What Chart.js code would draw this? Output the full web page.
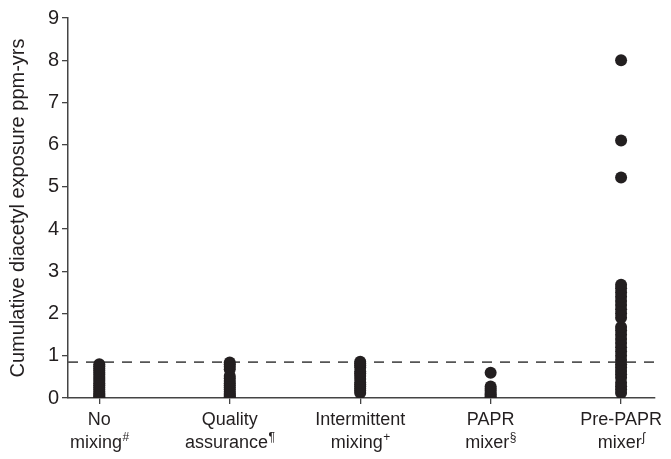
<!DOCTYPE html>
<html>
<head>
<meta charset="utf-8">
<script src="https://cdn.jsdelivr.net/npm/chart.js@4.4.1/dist/chart.umd.min.js"></script>
<style>
  html, body { margin: 0; padding: 0; background: #fff; }
  #wrap { width: 671px; height: 459px; position: relative; }
</style>
</head>
<body>
<div id="wrap"><canvas id="chart"></canvas></div>
<script>
// ===== Dados
const categories = ['No', 'Quality', 'Intermittent', 'PAPR', 'Pre-PAPR'];
const categories2 = ['mixing', 'assurance', 'mixing', 'mixer', 'mixer'];
const footMarks = ['#', '¶', '+', '§', 'ʃ'];

const noMixing     = [0, 0.03, 0.07, 0.1, 0.15, 0.2, 0.25, 0.3, 0.35, 0.4, 0.45, 0.5, 0.55, 0.6, 0.65, 0.7, 0.75, 0.8];
const quality      = [0, 0.03, 0.07, 0.1, 0.15, 0.2, 0.25, 0.3, 0.35, 0.4, 0.47, 0.52, 0.68, 0.74, 0.8, 0.84];
const intermittent = [0.12, 0.17, 0.22, 0.27, 0.32, 0.37, 0.45, 0.52, 0.58, 0.63, 0.72, 0.77, 0.82, 0.86];
const paprMixer    = [0, 0.04, 0.08, 0.12, 0.17, 0.22, 0.27, 0.6];
const prePapr      = [0.12, 0.2, 0.28, 0.36, 0.48, 0.56, 0.64, 0.72, 0.8, 0.9, 1.0, 1.1, 1.2, 1.3, 1.4, 1.5, 1.6, 1.68,
                      1.9, 2.0, 2.1, 2.2, 2.3, 2.4, 2.5, 2.6, 2.68, 5.22, 6.1, 8.0];
const threshold = 0.85;

const yTicks = [0, 1, 2, 3, 4, 5, 6, 7, 8, 9];

const INK = '#231f20';
const AXIS = '#444';
const FONT = '"Liberation Sans", Arial, sans-serif';

const groups = [noMixing, quality, intermittent, paprMixer, prePapr];
const points = [];
groups.forEach((vals, i) => vals.forEach(v => points.push({ x: i, y: v })));

const X_MIN = -0.24, X_MAX = 4.26;

// rótulos do eixo x com sobrescrito
const xLabels = {
  id: 'xLabels',
  afterDraw(chart) {
    const { ctx, scales: { x, y } } = chart;
    ctx.save();
    ctx.fillStyle = INK;
    ctx.textBaseline = 'alphabetic';
    categories.forEach((c, i) => {
      const px = x.getPixelForValue(i);
      const base = y.bottom;
      ctx.font = `18px ${FONT}`;
      ctx.textAlign = 'center';
      ctx.fillText(c, px, base + 27);
      // segunda linha + marca
      const l2 = categories2[i];
      const w2 = ctx.measureText(l2).width;
      ctx.font = `12px ${FONT}`;
      const ws = ctx.measureText(footMarks[i]).width;
      const start = px - (w2 + ws) / 2;
      ctx.font = `18px ${FONT}`;
      ctx.textAlign = 'left';
      ctx.fillText(l2, start, base + 50);
      ctx.font = `12px ${FONT}`;
      ctx.fillText(footMarks[i], start + w2 + 0.5, base + 43);
    });
    ctx.restore();
  }
};

new Chart(document.getElementById('chart'), {
  type: 'scatter',
  data: {
    datasets: [
      {
        label: 'exposure',
        data: points,
        pointRadius: 6,
        pointHoverRadius: 6,
        pointBackgroundColor: INK,
        pointBorderColor: INK,
        pointBorderWidth: 0,
        order: 1
      },
      {
        type: 'line',
        label: 'threshold',
        data: [{ x: X_MIN, y: threshold }, { x: X_MAX, y: threshold }],
        borderColor: '#555',
        borderWidth: 1.6,
        borderDash: [10, 8],
        pointRadius: 0,
        clip: false,
        order: 2
      }
    ]
  },
  options: {
    responsive: true,
    maintainAspectRatio: false,
    animation: false,
    layout: { padding: { top: 18, right: 16, left: 0, bottom: 0 } },
    plugins: { legend: { display: false }, tooltip: { enabled: false } },
    scales: {
      x: {
        type: 'linear',
        min: X_MIN,
        max: X_MAX,
        afterFit(scale) { scale.height = 61; },
        afterBuildTicks(scale) { scale.ticks = [0, 1, 2, 3, 4].map(v => ({ value: v })); },
        ticks: { display: false, includeBounds: false },
        grid: { drawOnChartArea: false, drawTicks: true, tickLength: 6, color: AXIS, lineWidth: 1.3 },
        border: { display: true, color: AXIS, width: 1.5 }
      },
      y: {
        min: 0,
        max: 9,
        afterFit(scale) { scale.width = 68; },
        afterBuildTicks(scale) { scale.ticks = yTicks.map(v => ({ value: v })); },
        ticks: { color: INK, font: { family: FONT, size: 20 }, padding: 3 },
        grid: { drawOnChartArea: false, drawTicks: true, tickLength: 6, color: AXIS, lineWidth: 1.3 },
        border: { display: true, color: AXIS, width: 1.5 },
        title: {
          display: true,
          text: 'Cumulative diacetyl exposure ppm-yrs',
          color: INK,
          font: { family: FONT, size: 20 },
          padding: { top: 6, bottom: 0 }
        }
      }
    }
  },
  plugins: [xLabels]
});
</script>
</body>
</html>
